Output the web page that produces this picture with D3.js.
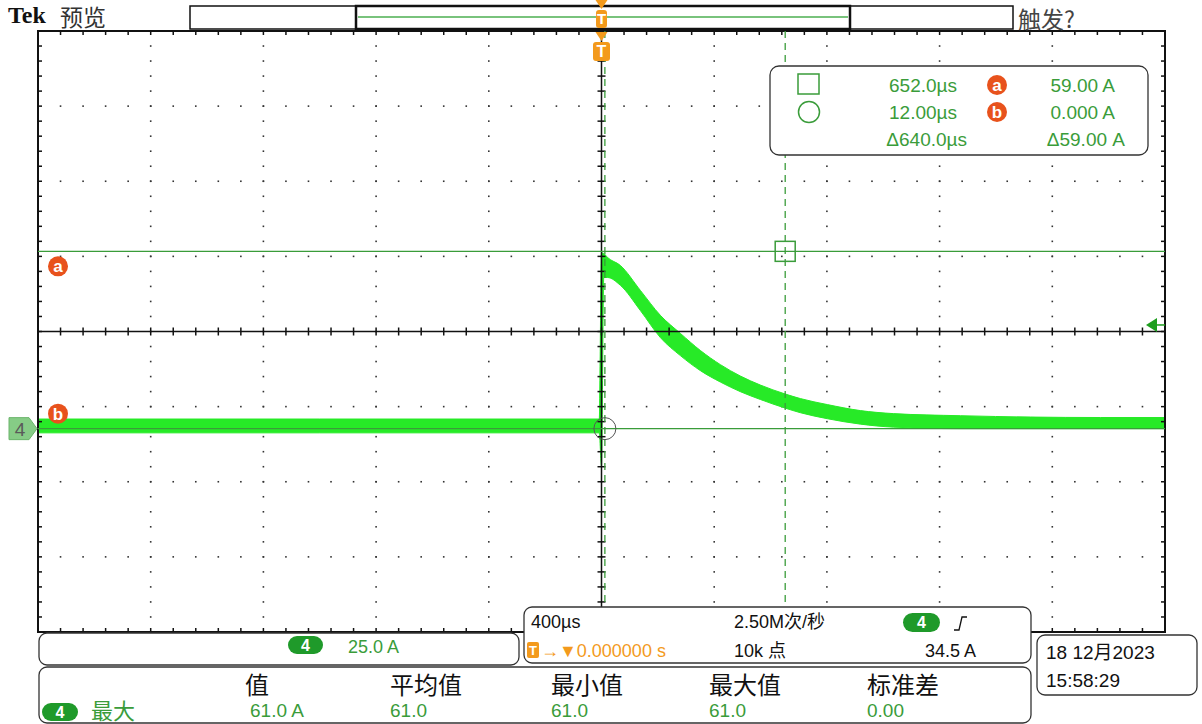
<!DOCTYPE html>
<html>
<head>
<meta charset="utf-8">
<title>Tek 预览</title>
<script src="https://d3js.org/d3.v7.min.js"></script>
<style>
  body {margin: 0; background: #fff;}
  text {font-family: "Liberation Sans", "Noto Sans CJK SC", sans-serif;}
  .cjk {font-family: "Noto Sans CJK SC", sans-serif;}
</style>
</head>
<body>
<div id="scope"></div>
<script>
    // ---- values ----
    const timeUs    = [-2000, -1000, -8, 0, 8, 21, 67, 138, 209, 280, 351, 422, 493, 564, 653, 706, 802, 919, 1036, 1274, 1771, 2000];
    const bandHighA = [3.2, 3.2, 3.2, 58.5, 58.3, 57.0, 54.3, 46.0, 37.7, 31.7, 26.0, 21.3, 17.5, 14.5, 11.5, 10.0, 8.0, 6.0, 5.0, 4.3, 3.7, 3.7];
    const bandLowA  = [-1.4, -1.4, -1.4, -12.5, 50.3, 50.3, 47.7, 39.3, 30.3, 24.3, 19.3, 15.5, 12.3, 9.7, 6.8, 5.3, 3.3, 1.5, 0.5, 0, 0, 0];

    const cursorTimesUs = [652, 12];
    const cursorLevelsA = [59, 0];
    const cursorLabels  = ['a', 'b'];
    const triggerLevelA = 34.5;

    const usPerDiv = 400;
    const ampPerDiv = 25;
    const groundDiv = -1.293;   // channel 4 ground, divisions from centre

    const readTimes  = ['652.0µs', '12.00µs', 'Δ640.0µs'];
    const readLevels = ['59.00 A', '0.000 A', 'Δ59.00 A'];

    const statHeads  = ['值', '平均值', '最小值', '最大值', '标准差'];
    const statValues = ['61.0 A', '61.0', '61.0', '61.0', '0.00'];

    // ---- layout ----
    const W = 1202, H = 724;
    const plot = {left: 38, top: 31, right: 1165, bottom: 632};
    const green = '#3a9c3a', wave = '#27ea27', pill = '#1f9a2a', orange = '#f39a1c', badge = '#e8521c';

    const svg = d3.select('#scope').append('svg')
        .attr('width', W).attr('height', H)
        .style('background', '#fff');

    const center = -groundDiv * ampPerDiv;
    const x = d3.scaleLinear().domain([-5 * usPerDiv, 5 * usPerDiv]).range([plot.left, plot.right]);
    const y = d3.scaleLinear().domain([center - 4 * ampPerDiv, center + 4 * ampPerDiv]).range([plot.bottom, plot.top]);

    const majorX = d3.range(-5, 6).map(d => d * usPerDiv);
    const minorX = d3.range(-25, 26).map(d => d * usPerDiv / 5);
    const majorY = d3.range(-4, 5).map(d => center + d * ampPerDiv);
    const minorY = d3.range(-20, 21).map(d => center + d * ampPerDiv / 5);

    const grid = svg.append('g');
    // dotted graticule
    majorX.slice(1, -1).filter(d => d !== 0).forEach(t => {
        grid.selectAll(null).data(minorY.slice(1, -1)).enter().append('rect')
            .attr('x', x(t) - 0.8).attr('y', d => y(d) - 0.8)
            .attr('width', 1.6).attr('height', 1.6).attr('fill', '#333');
    });
    majorY.slice(1, -1).filter((d, i) => i !== 3).forEach(v => {
        grid.selectAll(null).data(minorX.slice(1, -1)).enter().append('rect')
            .attr('x', d => x(d) - 0.8).attr('y', y(v) - 0.8)
            .attr('width', 1.6).attr('height', 1.6).attr('fill', '#333');
    });

    // waveform band
    const pts = timeUs.map((t, i) => ({t: t, hi: bandHighA[i], lo: bandLowA[i]}));
    svg.append('path')
        .datum(pts)
        .attr('d', d3.area().curve(d3.curveMonotoneX)
            .x(d => x(d.t)).y0(d => y(d.lo)).y1(d => y(d.hi)))
        .attr('fill', wave)
        .attr('stroke', wave).attr('stroke-width', 1);

    // centre cross
    const axes = svg.append('g').attr('stroke', '#111');
    axes.append('line').attr('x1', plot.left).attr('x2', plot.right)
        .attr('y1', y(center)).attr('y2', y(center)).attr('stroke-width', 1.5);
    axes.append('line').attr('x1', x(0)).attr('x2', x(0))
        .attr('y1', plot.top).attr('y2', plot.bottom).attr('stroke-width', 1.5);
    axes.selectAll(null).data(minorX).enter().append('line')
        .attr('x1', d => x(d)).attr('x2', d => x(d))
        .attr('y1', y(center) - 4).attr('y2', y(center) + 4).attr('stroke-width', 1.5);
    axes.selectAll(null).data(minorY).enter().append('line')
        .attr('y1', d => y(d)).attr('y2', d => y(d))
        .attr('x1', x(0) - 4).attr('x2', x(0) + 4).attr('stroke-width', 1.5);

    // frame + edge ticks
    const frame = svg.append('g').attr('stroke', '#111');
    frame.append('rect').attr('x', plot.left).attr('y', plot.top)
        .attr('width', plot.right - plot.left).attr('height', plot.bottom - plot.top)
        .attr('fill', 'none').attr('stroke-width', 2);
    [plot.top, plot.bottom].forEach((yy, k) => {
        frame.selectAll(null).data(minorX).enter().append('line')
            .attr('x1', d => x(d)).attr('x2', d => x(d))
            .attr('y1', yy).attr('y2', yy + (k ? -4 : 4)).attr('stroke-width', 1.5);
    });
    [plot.left, plot.right].forEach((xx, k) => {
        frame.selectAll(null).data(minorY).enter().append('line')
            .attr('y1', d => y(d)).attr('y2', d => y(d))
            .attr('x1', xx).attr('x2', xx + (k ? -4 : 4)).attr('stroke-width', 1.5);
    });

    // cursors
    const cur = svg.append('g').attr('stroke', green).attr('fill', 'none');
    cur.selectAll(null).data(cursorLevelsA).enter().append('line')
        .attr('x1', plot.left).attr('x2', plot.right)
        .attr('y1', d => y(d)).attr('y2', d => y(d)).attr('stroke-width', 1.3);
    cur.selectAll(null).data(cursorTimesUs).enter().append('line')
        .attr('x1', d => x(d)).attr('x2', d => x(d))
        .attr('y1', plot.top).attr('y2', plot.bottom)
        .attr('stroke-width', 1.3).attr('stroke-dasharray', '7,5');
    cur.append('rect')
        .attr('x', x(cursorTimesUs[0]) - 10).attr('y', y(cursorLevelsA[0]) - 10)
        .attr('width', 20).attr('height', 20).attr('stroke-width', 1.5);
    cur.append('circle')
        .attr('cx', x(cursorTimesUs[1])).attr('cy', y(cursorLevelsA[1])).attr('r', 11)
        .attr('stroke', '#555').attr('stroke-width', 1);

    // a / b badges
    function badgeAt(g, cx, cy, label) {
        g.append('circle').attr('cx', cx).attr('cy', cy).attr('r', 10).attr('fill', badge);
        g.append('text').attr('x', cx).attr('y', cy + 6).attr('text-anchor', 'middle')
            .attr('fill', '#fff').attr('font-weight', 'bold').attr('font-size', 17).text(label);
    }
    cursorLevelsA.forEach((v, i) => badgeAt(svg, 58, y(v) + (i ? -15 : 15), cursorLabels[i]));

    // channel 4 ground marker
    const gy = y(0);
    svg.append('path')
        .attr('d', `M9,${gy - 11} L29,${gy - 11} L37,${gy} L29,${gy + 11} L9,${gy + 11} Z`)
        .attr('fill', '#86cc86').attr('stroke', '#6ab46a').attr('stroke-linejoin', 'round');
    svg.append('text').attr('x', 20).attr('y', gy + 7).attr('text-anchor', 'middle')
        .attr('fill', '#5a5a5a').attr('font-size', 19).text('4');

    // trigger level arrow (right)
    const ty = y(triggerLevelA);
    svg.append('path').attr('d', `M1146,${ty} L1157,${ty - 7} L1157,${ty + 7} Z`).attr('fill', '#1e9e1e');
    svg.append('line').attr('x1', 1155).attr('x2', plot.right).attr('y1', ty).attr('y2', ty)
        .attr('stroke', '#1e9e1e').attr('stroke-width', 1.5);

    // header
    svg.append('text').attr('x', 8).attr('y', 23)
        .style('font-family', '"Liberation Serif", "DejaVu Serif", serif')
        .attr('font-weight', 'bold').attr('font-size', 24).attr('fill', '#111').text('Tek');
    svg.append('text').attr('class', 'cjk').attr('x', 60).attr('y', 26)
        .attr('font-size', 23).attr('fill', '#333').text('预览');
    svg.append('text').attr('class', 'cjk').attr('x', 1018).attr('y', 28)
        .attr('font-size', 23).attr('fill', '#444').text('触发?');

    // record bar
    svg.append('rect').attr('x', 190).attr('y', 6).attr('width', 823).attr('height', 23)
        .attr('fill', '#fff').attr('stroke', '#111').attr('stroke-width', 1.5);
    svg.append('rect').attr('x', 356).attr('y', 6).attr('width', 494).attr('height', 23)
        .attr('fill', 'none').attr('stroke', '#111').attr('stroke-width', 2.5);
    svg.append('line').attr('x1', 358).attr('x2', 848).attr('y1', 17).attr('y2', 17)
        .attr('stroke', '#4caf50').attr('stroke-width', 1.5);

    // trigger position T markers
    function tMarker(cx, top, w, h) {
        svg.append('path').attr('d', `M${cx - 6},${top - 10} L${cx + 6},${top - 10} L${cx},${top - 1} Z`).attr('fill', orange);
        svg.append('rect').attr('x', cx - w / 2).attr('y', top).attr('width', w).attr('height', h)
            .attr('rx', 3).attr('fill', orange);
        svg.append('text').attr('x', cx).attr('y', top + h - 4).attr('text-anchor', 'middle')
            .attr('fill', '#fff').attr('font-weight', 'bold').attr('font-size', h - 3).text('T');
    }
    tMarker(x(0), 10, 11, 18);
    tMarker(x(0), 42, 17, 19);

    // cursor readout box
    svg.append('rect').attr('x', 770).attr('y', 66).attr('width', 378).attr('height', 89)
        .attr('rx', 9).attr('fill', '#fff').attr('stroke', '#333').attr('stroke-width', 1.3);
    const rowY = [92, 119, 146];
    svg.append('rect').attr('x', 798).attr('y', 74).attr('width', 21).attr('height', 20)
        .attr('fill', 'none').attr('stroke', green).attr('stroke-width', 1.5);
    svg.append('circle').attr('cx', 809).attr('cy', 112).attr('r', 10.5)
        .attr('fill', 'none').attr('stroke', green).attr('stroke-width', 1.5);
    readTimes.forEach((s, i) => {
        svg.append('text').attr('x', i === 2 ? 967 : 957).attr('y', rowY[i]).attr('text-anchor', 'end')
            .attr('fill', green).attr('font-size', 19).text(s);
    });
    readLevels.forEach((s, i) => {
        svg.append('text').attr('x', i === 2 ? 1125 : 1115).attr('y', rowY[i]).attr('text-anchor', 'end')
            .attr('fill', green).attr('font-size', 19).text(s);
    });
    badgeAt(svg, 997, 85, cursorLabels[0]);
    badgeAt(svg, 997, 112, cursorLabels[1]);

    // bottom panels
    function panel(x0, y0, w, h) {
        return svg.append('rect').attr('x', x0).attr('y', y0).attr('width', w).attr('height', h)
            .attr('rx', 8).attr('fill', '#fff').attr('stroke', '#333').attr('stroke-width', 1.3);
    }
    function chPill(x0, y0, w, h, fs) {
        svg.append('rect').attr('x', x0).attr('y', y0).attr('width', w).attr('height', h)
            .attr('rx', h / 2).attr('fill', pill);
        svg.append('text').attr('x', x0 + w / 2).attr('y', y0 + h / 2 + fs * 0.36).attr('text-anchor', 'middle')
            .attr('fill', '#fff').attr('font-weight', 'bold').attr('font-size', fs).text('4');
    }

    panel(39, 633, 480, 32);
    chPill(288, 636, 35, 18, 16);
    svg.append('text').attr('x', 348).attr('y', 653).attr('fill', green).attr('font-size', 18).text(ampPerDiv.toFixed(1) + ' A');

    panel(524, 607, 507, 56);
    svg.append('text').attr('x', 531).attr('y', 628).attr('fill', '#111').attr('font-size', 18).text(usPerDiv + 'µs');
    svg.append('text').attr('x', 734).attr('y', 628).attr('fill', '#111').attr('font-size', 18).text('2.50M次/秒');
    chPill(903, 613, 37, 19, 16);
    svg.append('path').attr('d', 'M954,630 L959,630 L962,617 L967,617').attr('fill', 'none')
        .attr('stroke', '#111').attr('stroke-width', 1.3);
    svg.append('rect').attr('x', 527).attr('y', 642).attr('width', 12).attr('height', 16).attr('rx', 2).attr('fill', orange);
    svg.append('text').attr('x', 533).attr('y', 655).attr('text-anchor', 'middle').attr('fill', '#fff')
        .attr('font-weight', 'bold').attr('font-size', 13).text('T');
    svg.append('text').attr('x', 541).attr('y', 657).attr('fill', orange).attr('font-size', 18)
        .text('→▼0.000000 s');
    svg.append('text').attr('x', 734).attr('y', 657).attr('fill', '#111').attr('font-size', 18).text('10k 点');
    svg.append('text').attr('x', 925).attr('y', 657).attr('fill', '#111').attr('font-size', 18).text(triggerLevelA.toFixed(1) + ' A');

    panel(39, 667, 992, 56);
    chPill(42, 703, 36, 18, 16);
    svg.append('text').attr('class', 'cjk').attr('x', 91).attr('y', 719).attr('fill', green).attr('font-size', 22).text('最大');
    const statX = [245, 390, 551, 709, 867];
    statHeads.forEach((s, i) => {
        svg.append('text').attr('class', 'cjk').attr('x', statX[i]).attr('y', 694)
            .attr('fill', '#111').attr('font-size', 24).text(s);
        svg.append('text').attr('x', statX[i] + (i === 0 ? 5 : 0)).attr('y', 717)
            .attr('fill', green).attr('font-size', 19).text(statValues[i]);
    });

    panel(1037, 635, 160, 60);
    svg.append('text').attr('x', 1046).attr('y', 659).attr('fill', '#111').attr('font-size', 19).text('18 12月2023');
    svg.append('text').attr('x', 1046).attr('y', 687).attr('fill', '#111').attr('font-size', 19).text('15:58:29');
</script>
</body>
</html>
